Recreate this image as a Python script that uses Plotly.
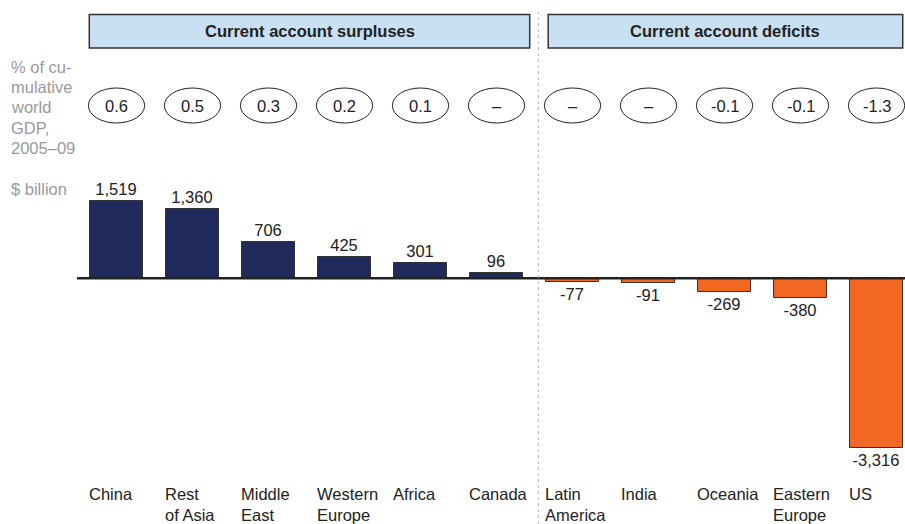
import plotly.graph_objects as go

regions = ['China', 'Rest<br>of Asia', 'Middle<br>East', 'Western<br>Europe', 'Africa', 'Canada',
           'Latin<br>America', 'India', 'Oceania', 'Eastern<br>Europe', 'US']
balance = [1519, 1360, 706, 425, 301, 96, -77, -91, -269, -380, -3316]
gdp_share = ['0.6', '0.5', '0.3', '0.2', '0.1', '–', '–', '–', '-0.1', '-0.1', '-1.3']
group_titles = ['Current account surpluses', 'Current account deficits']

navy = '#1f2a5a'
orange = '#f26722'
text_col = '#222222'
grey_text = '#9a9a9a'
font_family = 'Liberation Sans, Arial, sans-serif'

xs = list(range(len(regions)))
bar_w = 0.71

fig = go.Figure()
fig.add_trace(go.Bar(
    x=xs, y=balance, width=bar_w,
    marker=dict(color=[navy if v > 0 else orange for v in balance],
                line=dict(color='#333333', width=1)),
    text=[f'{v:,}' for v in balance], textposition='outside',
    textfont=dict(size=16.5, color=text_col, family=font_family),
    cliponaxis=False, hoverinfo='skip'
))

shapes = []
annotations = []

# baseline
shapes.append(dict(type='line', xref='paper', yref='y', x0=77 / 905, x1=1, y0=0, y1=0,
                   line=dict(color='#222222', width=2.5), layer='above'))
# divider between surpluses and deficits
shapes.append(dict(type='line', xref='x', yref='paper', x0=5.55, x1=5.55, y0=0, y1=1 - 12 / 524,
                   line=dict(color='#b5b5b5', width=1, dash='3px,3px')))

# header boxes
for (x0, x1), title in zip([(-0.358, 5.437), (5.68, 10.345)], group_titles):
    shapes.append(dict(type='rect', xref='x', yref='paper', x0=x0, x1=x1,
                       y0=1 - 48 / 524, y1=1 - 14.5 / 524,
                       fillcolor='#c9dff2', line=dict(color='#333333', width=1.5)))
    annotations.append(dict(xref='x', yref='paper', x=(x0 + x1) / 2, y=1 - 31 / 524,
                            xanchor='center', yanchor='middle',
                            text=f'<b>{title}</b>', showarrow=False,
                            font=dict(size=16.5, color=text_col, family=font_family)))

# ellipses with GDP share
for x, s in zip(xs, gdp_share):
    shapes.append(dict(type='circle', xref='x', yref='paper', x0=x - 0.37, x1=x + 0.37,
                       y0=1 - 123 / 524, y1=1 - 88 / 524,
                       line=dict(color='#222222', width=1)))
    annotations.append(dict(xref='x', yref='paper', x=x, y=1 - 105.5 / 524, text=s,
                            xanchor='center', yanchor='middle',
                            showarrow=False, font=dict(size=16.5, color=text_col, family=font_family)))

# category labels, left aligned to bar edge
for x, r in zip(xs, regions):
    annotations.append(dict(xref='x', yref='paper', x=x - bar_w / 2 - 0.03, y=1 - 483 / 524,
                            xanchor='left', yanchor='top', align='left', text=r,
                            showarrow=False, font=dict(size=16.5, color=text_col, family=font_family)))

# left side labels
left_lines = ['% of cu-', 'mulative', 'world', 'GDP,', '2005–09']
for i, line in enumerate(left_lines):
    annotations.append(dict(xref='paper', yref='paper', x=9 / 905, y=1 - (67 + 20.2 * i) / 524,
                            xanchor='left', yanchor='middle', text=line, showarrow=False,
                            font=dict(size=16.5, color=grey_text, family=font_family)))
annotations.append(dict(xref='paper', yref='paper', x=9 / 905, y=1 - 189 / 524,
                        xanchor='left', yanchor='middle', text='$ billion', showarrow=False,
                        font=dict(size=16.5, color=grey_text, family=font_family)))

fig.update_layout(
    width=905, height=524,
    margin=dict(l=0, r=0, t=0, b=0),
    plot_bgcolor='white', paper_bgcolor='white',
    showlegend=False, bargap=0,
    shapes=shapes, annotations=annotations,
    xaxis=dict(range=[-116.5 / 76, (905 - 116.5) / 76], visible=False, fixedrange=True),
    yaxis=dict(range=[-(524 - 278.3) / 0.0512, 278.3 / 0.0512], visible=False, fixedrange=True),
)

# page body has a default 8px margin; drop it so the figure fills the window
fig.write_html('out.html', config={'displayModeBar': False},
               post_script="document.body.style.margin='0';document.body.style.overflow='hidden';")
